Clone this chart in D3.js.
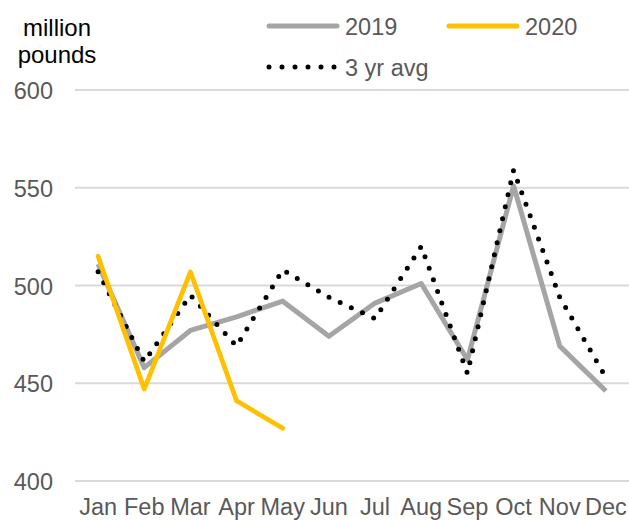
<!DOCTYPE html>
<html lang="en">
<head>
  <meta charset="UTF-8">
  <title>Monthly volume</title>
  <script src="https://d3js.org/d3.v7.min.js"></script>
  <style>
    body { margin: 0; background: #fff; }
    svg { display: block; }
    text {
      font-family: "Liberation Sans", Arial, sans-serif;
      font-size: 23.5px;
      fill: #595959;
    }
    .unit { fill: #000; font-size: 24px; }
    .grid line { stroke: #d9d9d9; stroke-width: 2px; }
  </style>
</head>
<body>
  <svg id="chart" width="629" height="520"></svg>

  <script>
    // chart data
    const months = ["Jan", "Feb", "Mar", "Apr", "May", "Jun", "Jul", "Aug", "Sep", "Oct", "Nov", "Dec"];
    const yTicks = [400, 450, 500, 550, 600];
    const values2019 = [511, 458, 477, 484, 492, 474, 491, 501, 462, 551, 469, 446];
    const values2020 = [515, 447, 507, 441, 427];
    const avg3yr = [507, 461, 495, 469, 508, 494, 483, 520, 455, 559, 494, 453];

    const svg = d3.select("#chart");

    const x = d3.scaleBand()
      .domain(months)
      .range([75, 629])
      .padding(0);

    const y = d3.scaleLinear()
      .domain([400, 600])
      .range([481, 90]);

    const cx = m => x(m) + x.bandwidth() / 2;

    // gridlines
    svg.append("g")
      .attr("class", "grid")
      .selectAll("line")
      .data(yTicks)
      .join("line")
      .attr("x1", 75)
      .attr("x2", 629)
      .attr("y1", d => y(d))
      .attr("y2", d => y(d));

    // y labels
    svg.append("g")
      .selectAll("text")
      .data(yTicks)
      .join("text")
      .attr("x", 53)
      .attr("y", d => y(d) + 9)
      .attr("text-anchor", "end")
      .text(d => d);

    // unit label
    svg.append("text")
      .attr("class", "unit")
      .attr("x", 57)
      .attr("y", 36)
      .attr("text-anchor", "middle")
      .text("million");
    svg.append("text")
      .attr("class", "unit")
      .attr("x", 57)
      .attr("y", 63)
      .attr("text-anchor", "middle")
      .text("pounds");

    // x labels
    svg.append("g")
      .selectAll("text")
      .data(months)
      .join("text")
      .attr("x", d => cx(d))
      .attr("y", 515)
      .attr("text-anchor", "middle")
      .text(d => d);

    const line = d3.line()
      .x((d, i) => cx(months[i]))
      .y(d => y(d));

    svg.append("path")
      .datum(values2019)
      .attr("fill", "none")
      .attr("stroke", "#a5a5a5")
      .attr("stroke-width", 5)
      .attr("stroke-linejoin", "round")
      .attr("d", line);

    svg.append("path")
      .datum(avg3yr)
      .attr("fill", "none")
      .attr("stroke", "#000")
      .attr("stroke-width", 5)
      .attr("stroke-linecap", "round")
      .attr("stroke-dasharray", "0 12.3")
      .attr("d", line);

    svg.append("path")
      .datum(values2020)
      .attr("fill", "none")
      .attr("stroke", "#ffc000")
      .attr("stroke-width", 4.7)
      .attr("stroke-linejoin", "round")
      .attr("stroke-linecap", "round")
      .attr("d", line);

    // legend
    const legend = svg.append("g");
    const legendItems = [
      { label: "2019", x: 267, y: 26, color: "#a5a5a5", width: 5, dash: null },
      { label: "2020", x: 447, y: 26, color: "#ffc000", width: 5, dash: null },
      { label: "3 yr avg", x: 267, y: 67, color: "#000", width: 5, dash: "0 13" }
    ];
    legendItems.forEach(it => {
      legend.append("line")
        .attr("x1", it.x + 2)
        .attr("x2", it.x + 70)
        .attr("y1", it.y)
        .attr("y2", it.y)
        .attr("stroke", it.color)
        .attr("stroke-width", it.width)
        .attr("stroke-linecap", "round")
        .attr("stroke-dasharray", it.dash);
      legend.append("text")
        .attr("x", it.x + 78)
        .attr("y", it.y + 8.5)
        .text(it.label);
    });
  </script>
</body>
</html>
